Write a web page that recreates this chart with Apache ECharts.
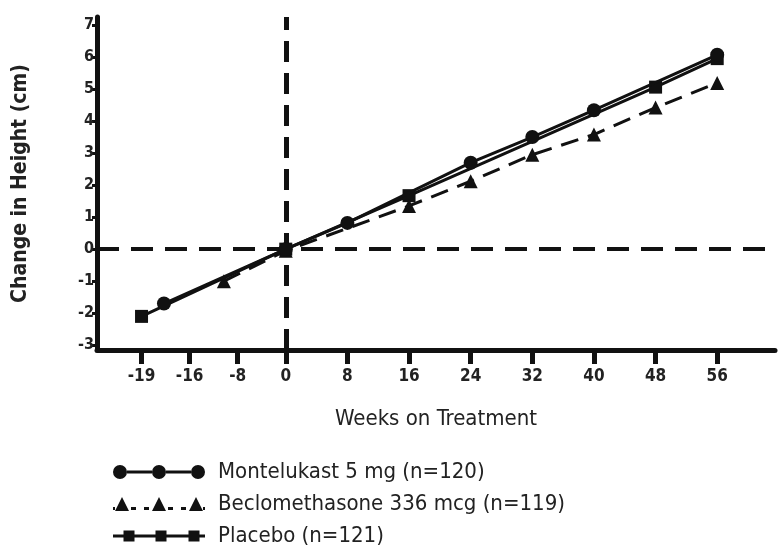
<!DOCTYPE html>
<html><head><meta charset="utf-8">
<script src="https://cdn.jsdelivr.net/npm/echarts@6/dist/echarts.min.js"></script>
<style>html,body{margin:0;padding:0;background:#fff}#c{width:780px;height:555px}</style>
</head><body><div id="c"></div>
<script>
// ---- data ----
const tickWeeks = [-19, -16, -8, 0, 8, 16, 24, 32, 40, 48, 56];
const tickLabels = ['-19', '-16', '-8', '0', '8', '16', '24', '32', '40', '48', '56'];
const yTicks = [-3, -2, -1, 0, 1, 2, 3, 4, 5, 6, 7];

const seriesNames = ['Montelukast 5 mg (n=120)', 'Beclomethasone 336 mcg (n=119)', 'Placebo (n=121)'];

const montWeeks = [-17.6, 0, 8, 24, 32, 40, 56];
const montVals  = [-1.7, 0, 0.82, 2.7, 3.5, 4.34, 6.07];
const beclWeeks = [-10.3, 0, 16, 24, 32, 40, 48, 56];
const beclVals  = [-1.0, -0.05, 1.35, 2.12, 2.95, 3.58, 4.42, 5.19];
const placWeeks = [-19, 0, 16, 48, 56];
const placVals  = [-2.1, 0, 1.67, 5.06, 5.95];

// ---- axis mapping: treatment weeks are linear, pre-treatment visits are evenly spaced ----
const PRE_SLOT = 6.24;
const preTicks = tickWeeks.filter(t => t <= 0);
function pos(w) {
  if (w >= 0) return w;
  for (let i = preTicks.length - 1; i > 0; i--) {
    const hi = preTicks[i], lo = preTicks[i - 1];
    if (w >= lo) {
      const sHi = -(preTicks.length - 1 - i) * PRE_SLOT;
      return sHi - (hi - w) / (hi - lo) * PRE_SLOT;
    }
  }
  return -(preTicks.length - 1) * PRE_SLOT;
}
const tickPos = tickWeeks.map(pos);
function labelFor(v) {
  for (let i = 0; i < tickPos.length; i++) if (Math.abs(tickPos[i] - v) < 1e-6) return tickLabels[i];
  return '';
}
const pair = (ws, vs) => ws.map((w, i) => [pos(w), vs[i]]);

const FONT = "'Liberation Sans Narrow', 'DejaVu Sans Condensed', 'Arial Narrow', sans-serif";
const INK = '#111';

// legend icons (drawn in a 92x14 box)
function circ(cx, cy, r) { return `M${cx - r},${cy}a${r},${r} 0 1,0 ${2 * r},0a${r},${r} 0 1,0 ${-2 * r},0Z`; }
const iconMont = 'path://' + [circ(7, 7, 7), circ(46, 7, 7), circ(85, 7, 7),
  'M14,5.4H39V8.6H14Z', 'M53,5.4H78V8.6H53Z'].join(' ');
function tri(cx) { return `M${cx - 7},14L${cx},0L${cx + 7},14Z`; }
const iconBecl = 'path://' + [tri(9), tri(46), tri(83), 'M0,10H2V13H0Z', 'M18,10H23V13H18Z', 'M31,10H36V13H31Z',
  'M55,10H60V13H55Z', 'M68,10H73V13H68Z', 'M90,10H92V13H90Z'].join(' ');
function sq(cx) { return `M${cx - 5.5},1.5H${cx + 5.5}V12.5H${cx - 5.5}Z`; }
const iconPlac = 'path://' + [sq(16), sq(48), sq(81), 'M0,5.6H10.5V8.4H0Z', 'M21.5,5.6H42.5V8.4H21.5Z',
  'M53.5,5.6H75.5V8.4H53.5Z', 'M86.5,5.6H92V8.4H86.5Z'].join(' ');

const chart = echarts.init(document.getElementById('c'), null, { renderer: 'canvas' });
chart.setOption({
  animation: false,
  backgroundColor: '#fff',
  grid: { left: 97, right: 5, top: 17, bottom: 205, containLabel: false },
  xAxis: {
    type: 'value', min: -24.5, max: 63.5,
    name: 'Weeks on Treatment', nameLocation: 'middle', nameGap: 58,
    nameTextStyle: { fontFamily: FONT, fontSize: 22, color: '#222' },
    axisLine: { show: true, onZero: false, lineStyle: { color: INK, width: 5 } },
    axisTick: { show: true, customValues: tickPos, length: 14, lineStyle: { color: INK, width: 5 } },
    axisLabel: { customValues: tickPos, formatter: labelFor, fontFamily: FONT, fontWeight: 'bold',
      fontSize: 17, color: '#222', margin: 18 },
    splitLine: { show: false }
  },
  yAxis: {
    type: 'value', min: -3.15, max: 7.25,
    name: 'Change in Height (cm)', nameLocation: 'middle', nameGap: 66,
    nameTextStyle: { fontFamily: FONT, fontSize: 21, fontWeight: 'bold', color: '#222' },
    axisLine: { show: true, onZero: false, lineStyle: { color: INK, width: 5 } },
    axisTick: { show: true, customValues: yTicks, length: 5, lineStyle: { color: INK, width: 3 } },
    axisLabel: { customValues: yTicks, fontFamily: FONT, fontWeight: 'bold', fontSize: 16, color: '#222', margin: 3 },
    splitLine: { show: false }
  },
  legend: {
    orient: 'vertical', left: 108, top: 455, itemWidth: 92, itemHeight: 14, itemGap: 8,
    textStyle: { fontFamily: FONT, fontSize: 22, lineHeight: 24, color: '#222', padding: [0, 0, 0, 8] },
    data: [
      { name: seriesNames[0], icon: iconMont },
      { name: seriesNames[1], icon: iconBecl },
      { name: seriesNames[2], icon: iconPlac }
    ]
  },
  series: [
    {
      name: seriesNames[2], type: 'line', data: pair(placWeeks, placVals),
      symbol: 'rect', symbolSize: 13, z: 3,
      lineStyle: { color: INK, width: 3 }, itemStyle: { color: INK },
      markLine: {
        silent: true, symbol: ['none', 'none'], label: { show: false }, z: 1,
        data: [
          { xAxis: 0, lineStyle: { color: INK, width: 5, type: [21, 11] } },
          { yAxis: 0, lineStyle: { color: INK, width: 4, type: [22, 12] } }
        ]
      }
    },
    {
      name: seriesNames[1], type: 'line', data: pair(beclWeeks, beclVals),
      symbol: 'triangle', symbolSize: 14, z: 4,
      lineStyle: { color: INK, width: 3, type: [18, 10] }, itemStyle: { color: INK }
    },
    {
      name: seriesNames[0], type: 'line', data: pair(montWeeks, montVals),
      symbol: 'circle', symbolSize: 14, z: 5,
      lineStyle: { color: INK, width: 3 }, itemStyle: { color: INK }
    }
  ]
});
</script>
</body></html>
